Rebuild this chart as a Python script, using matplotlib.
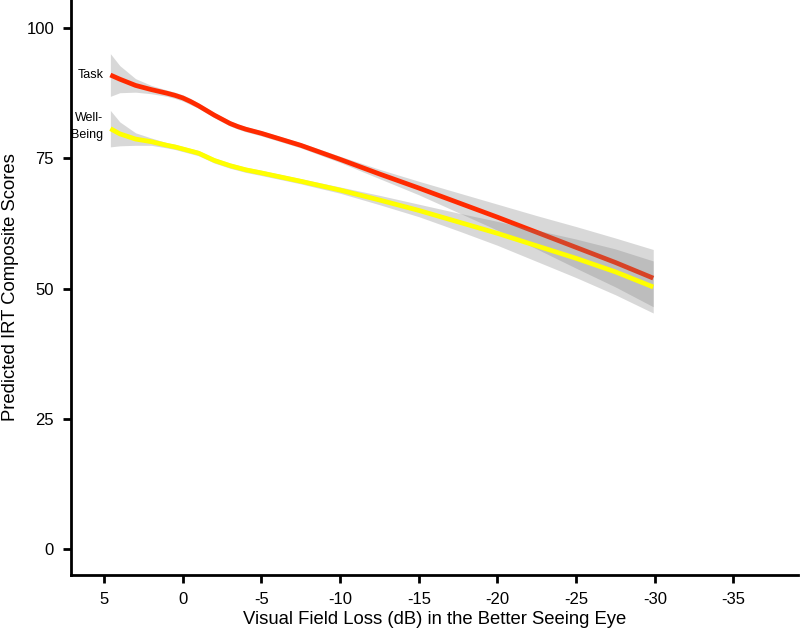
import matplotlib
matplotlib.use("Agg")
import matplotlib.pyplot as plt
import numpy as np

plt.rcParams['font.family'] = ['Liberation Sans', 'DejaVu Sans']

# Visual field loss (dB) positions where curves were read
vf_loss = [4.6, 4, 3, 2, 1, 0.5, 0, -0.5, -1, -1.5, -2, -2.5, -3, -3.5, -4, -5,
           -7.5, -10, -12.5, -15, -17.5, -20, -22.5, -25, -27.5, -29.9]

task = [91.0, 90.2, 89.0, 88.2, 87.5, 87.1, 86.6, 85.9, 85.1, 84.2, 83.3, 82.5,
        81.7, 81.1, 80.6, 79.8, 77.5, 74.8, 72.0, 69.3, 66.5, 63.7, 60.8,
        57.9, 55.0, 52.0]
task_ci = [4.1, 2.6, 1.3, 0.8, 0.6, 0.6, 0.6, 0.6, 0.5, 0.5, 0.5, 0.5, 0.5, 0.5,
           0.5, 0.5, 0.5, 0.6, 0.9, 1.3, 1.9, 2.5, 3.2, 4.0, 4.7, 5.5]

wellbeing = [80.7, 79.7, 78.7, 78.2, 77.5, 77.2, 76.8, 76.4, 76.0, 75.3, 74.6,
             74.1, 73.6, 73.2, 72.8, 72.2, 70.6, 68.9, 67.0, 65.0, 62.8, 60.6,
             58.2, 55.8, 53.2, 50.3]
wellbeing_ci = [3.5, 2.3, 1.2, 0.7, 0.5, 0.5, 0.5, 0.5, 0.5, 0.5, 0.5, 0.5, 0.5,
                0.5, 0.5, 0.5, 0.5, 0.6, 0.9, 1.2, 1.7, 2.3, 3.0, 3.7, 4.4, 5.0]

x_ticks = [5, 0, -5, -10, -15, -20, -25, -30, -35]
y_ticks = [0, 25, 50, 75, 100]

x = np.array(vf_loss)
t = np.array(task); tc = np.array(task_ci)
w = np.array(wellbeing); wc = np.array(wellbeing_ci)

fig = plt.figure(figsize=(8, 6.33), dpi=100)
ax = fig.add_axes([0.0884, 0.0916, 0.9091, 0.9084])

ax.fill_between(x, t - tc, t + tc, color='#808080', alpha=0.3, linewidth=0, zorder=1)
ax.plot(x, t, color='#ff2a00', linewidth=3.4, solid_capstyle='butt',
        solid_joinstyle='round', zorder=2)
ax.fill_between(x, w - wc, w + wc, color='#808080', alpha=0.3, linewidth=0, zorder=3)
ax.plot(x, w, color='#ffff00', linewidth=3.4, solid_capstyle='butt',
        solid_joinstyle='round', zorder=4)

ax.text(5.05, task[0], 'Task', ha='right', va='center', fontsize=9)
ax.text(5.05, wellbeing[0] + 0.4, 'Well-\nBeing', ha='right', va='center',
        fontsize=9, linespacing=1.6)

ax.set_xlim(7.12, -39.1)
ax.set_ylim(-5.0, 105.4)
ax.set_xticks(x_ticks)
ax.set_xticklabels([str(v) for v in x_ticks])
ax.set_yticks(y_ticks)

for s in ['top', 'right']:
    ax.spines[s].set_visible(False)
for s in ['left', 'bottom']:
    ax.spines[s].set_linewidth(2)
ax.tick_params(axis='both', direction='out', length=6, width=2, labelsize=12, pad=6)

ax.set_xlabel('Visual Field Loss (dB) in the Better Seeing Eye', fontsize=13.3, labelpad=3)
ax.set_ylabel('Predicted IRT Composite Scores', fontsize=13.3, labelpad=5)

fig.savefig('out.png', dpi=100)
